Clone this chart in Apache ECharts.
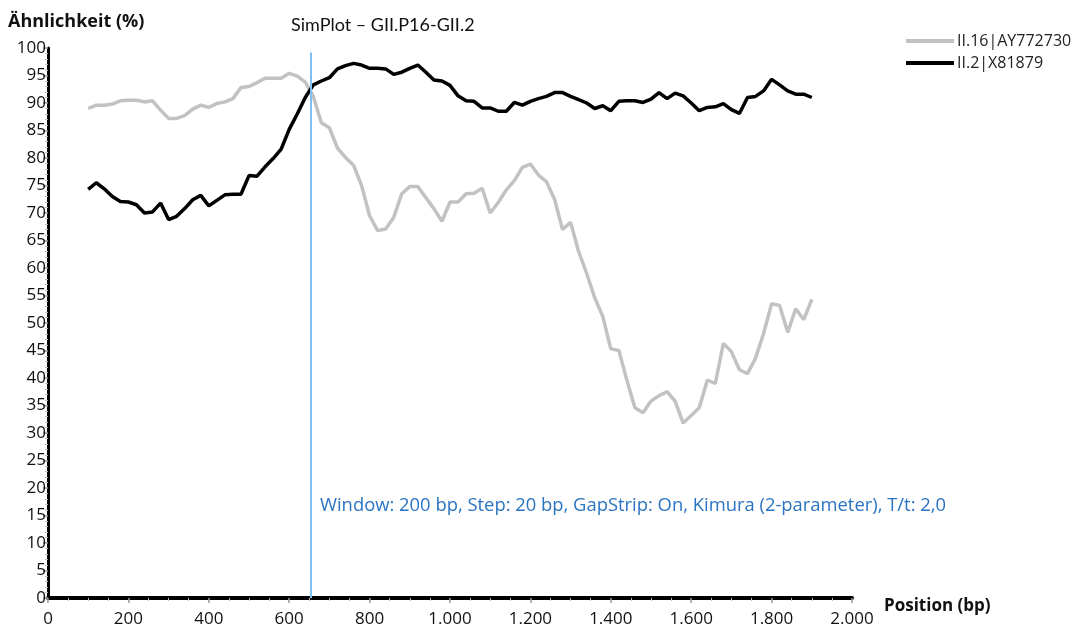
<!DOCTYPE html>
<html>
<head>
<meta charset="utf-8">
<script src="https://cdn.jsdelivr.net/npm/echarts@6/dist/echarts.min.js"></script>
<style>
  html, body { margin: 0; padding: 0; background: #fff; }
  #chart { width: 1080px; height: 628px; }
</style>
</head>
<body>
<div id="chart"></div>
<script>
// window positions (bp), step 20
var positions = [
  100, 120, 140, 160, 180, 200, 220, 240, 260, 280,
  300, 320, 340, 360, 380, 400, 420, 440, 460, 480,
  500, 520, 540, 560, 580, 600, 620, 640, 660, 680,
  700, 720, 740, 760, 780, 800, 820, 840, 860, 880,
  900, 920, 940, 960, 980, 1000, 1020, 1040, 1060, 1080,
  1100, 1120, 1140, 1160, 1180, 1200, 1220, 1240, 1260, 1280,
  1300, 1320, 1340, 1360, 1380, 1400, 1420, 1440, 1460, 1480,
  1500, 1520, 1540, 1560, 1580, 1600, 1620, 1640, 1660, 1680,
  1700, 1720, 1740, 1760, 1780, 1800, 1820, 1840, 1860, 1880,
  1900
];

// II.16|AY772730 (grey)
var simII16 = [
  89.0, 89.6, 89.6, 89.8, 90.4, 90.5, 90.5, 90.2, 90.4, 88.7,
  87.2, 87.2, 87.7, 88.9, 89.6, 89.2, 89.9, 90.2, 90.8, 92.8,
  93.0, 93.7, 94.5, 94.5, 94.5, 95.4, 94.9, 93.8, 91.2, 86.4,
  85.5, 81.8, 80.1, 78.7, 75.0, 69.5, 66.8, 67.1, 69.2, 73.5,
  74.8, 74.8, 72.8, 70.8, 68.5, 72.0, 72.0, 73.5, 73.6, 74.5,
  70.0, 71.9, 74.2, 75.9, 78.3, 78.9, 76.9, 75.7, 72.5, 67.0,
  68.3, 63.0, 59.0, 54.6, 51.2, 45.3, 45.0, 39.6, 34.6, 33.7,
  35.8, 36.8, 37.5, 35.8, 31.8, 33.2, 34.6, 39.6, 39.0, 46.3,
  44.8, 41.5, 40.8, 43.6, 48.1, 53.5, 53.2, 48.3, 52.6, 50.6,
  54.3
];

// II.2|X81879 (black)
var simII2 = [
  74.3, 75.5, 74.4, 73.0, 72.1, 72.0, 71.5, 70.0, 70.2, 71.8,
  68.8, 69.4, 70.8, 72.4, 73.2, 71.3, 72.3, 73.3, 73.4, 73.4,
  76.8, 76.7, 78.4, 79.9, 81.6, 85.2, 88.0, 91.0, 93.3, 94.0,
  94.6, 96.2, 96.8, 97.2, 96.9, 96.3, 96.3, 96.2, 95.2, 95.6,
  96.3, 96.9, 95.6, 94.2, 94.0, 93.2, 91.3, 90.4, 90.3, 89.1,
  89.1, 88.5, 88.5, 90.1, 89.6, 90.3, 90.8, 91.2, 91.9, 91.9,
  91.2, 90.6, 90.0, 89.0, 89.5, 88.6, 90.3, 90.4, 90.4, 90.1,
  90.7, 91.9, 90.8, 91.8, 91.3, 90.0, 88.6, 89.2, 89.3, 89.9,
  88.8, 88.1, 91.0, 91.2, 92.2, 94.3, 93.3, 92.2, 91.6, 91.6,
  91.0
];

var queryPos = 653;
var seriesNames = ['II.16|AY772730', 'II.2|X81879'];
var infoText = 'Window: 200 bp, Step: 20 bp, GapStrip: On, Kimura (2-parameter), T/t: 2,0';

function pairs(vals) {
  var out = [];
  for (var i = 0; i < positions.length; i++) {
    out.push([positions[i], vals[i]]);
  }
  return out;
}

var chart = echarts.init(document.getElementById('chart'));
var labelFont = '"Open Sans", "Noto Sans", sans-serif';

var option = {
  animation: false,
  backgroundColor: '#fff',
  title: {
    text: 'SimPlot – GII.P16-GII.2',
    left: 286,
    top: 11,
    textStyle: {
      fontFamily: 'Lato, "Open Sans", sans-serif',
      fontWeight: 'normal',
      fontSize: 18,
      color: '#111'
    }
  },
  legend: {
    orient: 'vertical',
    left: 901,
    top: 28,
    itemWidth: 48,
    itemHeight: 4,
    itemGap: 6,
    icon: 'rect',
    textStyle: { fontFamily: labelFont, fontSize: 16, color: '#222', padding: [0, 0, 0, -2] },
    data: seriesNames
  },
  grid: {
    left: 48,
    right: 228,
    top: 48,
    bottom: 30
  },
  xAxis: {
    type: 'value',
    min: 0,
    max: 2000,
    interval: 200,
    name: 'Position (bp)',
    nameLocation: 'end',
    nameGap: 32,
    nameTextStyle: {
      fontFamily: labelFont,
      fontWeight: 'bold',
      fontSize: 17,
      color: '#111',
      verticalAlign: 'top',
      padding: [0, 0, 0, 0]
    },
    axisLine: { lineStyle: { color: '#000', width: 4 } },
    axisTick: { show: true, length: 5, lineStyle: { color: '#999', width: 1.5 } },
    minorTick: { show: true, splitNumber: 4, length: 3, lineStyle: { color: '#bbb', width: 1 } },
    splitLine: { show: false },
    axisLabel: {
      margin: 13,
      fontFamily: labelFont,
      fontSize: 17,
      color: '#111',
      formatter: function (v) {
        return String(v).replace(/\B(?=(\d{3})+(?!\d))/g, '.');
      }
    }
  },
  yAxis: {
    type: 'value',
    min: 0,
    max: 100,
    interval: 5,
    name: 'Ähnlichkeit (%)',
    nameLocation: 'end',
    nameGap: 17,
    nameTextStyle: {
      fontFamily: labelFont,
      fontWeight: 'bold',
      fontSize: 18,
      color: '#111',
      align: 'left',
      padding: [0, 0, 0, -40]
    },
    axisLine: { show: true, lineStyle: { color: '#000', width: 3 } },
    axisTick: { show: true, length: 5, lineStyle: { color: '#999', width: 1.5 } },
    minorTick: { show: true, splitNumber: 5, length: 3, lineStyle: { color: '#bbb', width: 1 } },
    splitLine: { show: false },
    axisLabel: {
      margin: 2,
      fontFamily: labelFont,
      fontSize: 17,
      color: '#111'
    }
  },
  series: [
    {
      name: seriesNames[0],
      type: 'line',
      data: pairs(simII16),
      showSymbol: false,
      color: '#c2c2c2',
      lineStyle: { color: '#c2c2c2', width: 3.5 },
      z: 2
    },
    {
      name: seriesNames[1],
      type: 'line',
      data: pairs(simII2),
      showSymbol: false,
      color: '#000',
      lineStyle: { color: '#000', width: 3.5 },
      z: 3,
      markLine: {
        silent: true,
        symbol: 'none',
        label: { show: false },
        lineStyle: { color: '#7cc2f2', width: 2, type: 'solid' },
        data: [[{ coord: [queryPos, 0] }, { coord: [queryPos, 99.2] }]]
      }
    }
  ],
  graphic: [
    {
      type: 'text',
      left: 320,
      top: 497,
      style: {
        text: infoText,
        fontFamily: labelFont,
        fontSize: 18.4,
        fill: '#2a74c2'
      }
    }
  ]
};

chart.setOption(option);
</script>
</body>
</html>
